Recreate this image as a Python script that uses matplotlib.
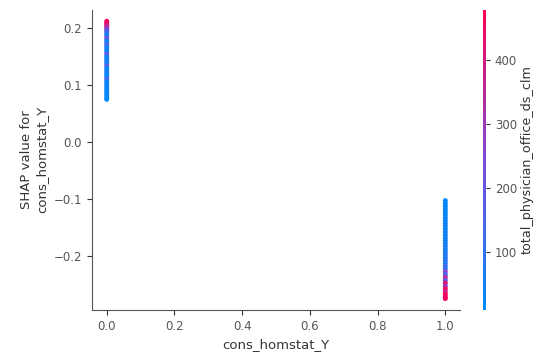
import numpy as np
import matplotlib
matplotlib.use("Agg")
import matplotlib.pyplot as plt
from matplotlib.colors import LinearSegmentedColormap

# SHAP dependence plot for cons_homstat_Y, coloured by total_physician_office_ds_clm
feat_x0 = [0.0] * 37
shap_x0 = [0.212, 0.209, 0.206, 0.203, 0.200, 0.197, 0.194, 0.190, 0.186, 0.182,
           0.178, 0.174, 0.170, 0.166, 0.162, 0.158, 0.154, 0.150, 0.146, 0.142,
           0.138, 0.134, 0.130, 0.126, 0.122, 0.118, 0.114, 0.110, 0.106, 0.102,
           0.098, 0.094, 0.090, 0.086, 0.082, 0.078, 0.075]
phys_x0 = [470, 455, 420, 380, 300, 260, 150, 90, 60, 240,
           70, 50, 180, 40, 60, 30, 220, 45, 35, 60,
           25, 200, 40, 30, 55, 20, 35, 160, 25, 40,
           20, 30, 15, 25, 20, 15, 12]

feat_x1 = [1.0] * 36
shap_x1 = [-0.103, -0.108, -0.113, -0.118, -0.123, -0.128, -0.133, -0.138, -0.143, -0.148,
           -0.153, -0.158, -0.163, -0.168, -0.173, -0.178, -0.183, -0.188, -0.193, -0.198,
           -0.203, -0.208, -0.213, -0.218, -0.223, -0.228, -0.233, -0.238, -0.243, -0.248,
           -0.253, -0.258, -0.263, -0.268, -0.272, -0.275]
phys_x1 = [20, 15, 25, 18, 30, 22, 40, 28, 35, 45,
           30, 50, 38, 60, 42, 55, 70, 48, 65, 80,
           60, 90, 75, 120, 100, 260, 140, 350, 200, 420,
           300, 450, 380, 470, 430, 460]

x = np.array(feat_x0 + feat_x1)
y = np.array(shap_x0 + shap_x1)
c = np.array(phys_x0 + phys_x1)

red_blue = LinearSegmentedColormap.from_list("red_blue", ["#008bfb", "#7d4bd8", "#ff0052"])

fig = plt.figure(figsize=(5.37, 3.53), dpi=100)
ax = fig.add_axes([0.171, 0.122, 0.686, 0.85])
cax = fig.add_axes([0.899, 0.122, 0.0056, 0.85])

p = ax.scatter(x, y, c=c, cmap=red_blue, vmin=10, vmax=478, s=13, linewidth=0, alpha=1)

ax.set_xlim(-0.044, 1.044)
ax.set_ylim(-0.295, 0.232)
ax.set_xticks([0.0, 0.2, 0.4, 0.6, 0.8, 1.0])
ax.set_yticks([-0.2, -0.1, 0.0, 0.1, 0.2])
ax.set_xlabel("cons_homstat_Y", fontsize=9.5, color="#333333")
ax.set_ylabel("SHAP value for\ncons_homstat_Y", fontsize=9.5, color="#333333")
ax.spines["top"].set_visible(False)
ax.spines["right"].set_visible(False)
for s in ["left", "bottom"]:
    ax.spines[s].set_color("#555555")
ax.tick_params(labelsize=8.5, colors="#333333", labelcolor="#555555")

cb = fig.colorbar(p, cax=cax)
cb.outline.set_visible(False)
cb.set_ticks([100, 200, 300, 400])
cb.ax.tick_params(labelsize=8.5, colors="#333333", labelcolor="#555555", length=3)
cb.set_label("total_physician_office_ds_clm", fontsize=9.2, color="#333333", labelpad=3)

fig.savefig("out.png", dpi=100)
